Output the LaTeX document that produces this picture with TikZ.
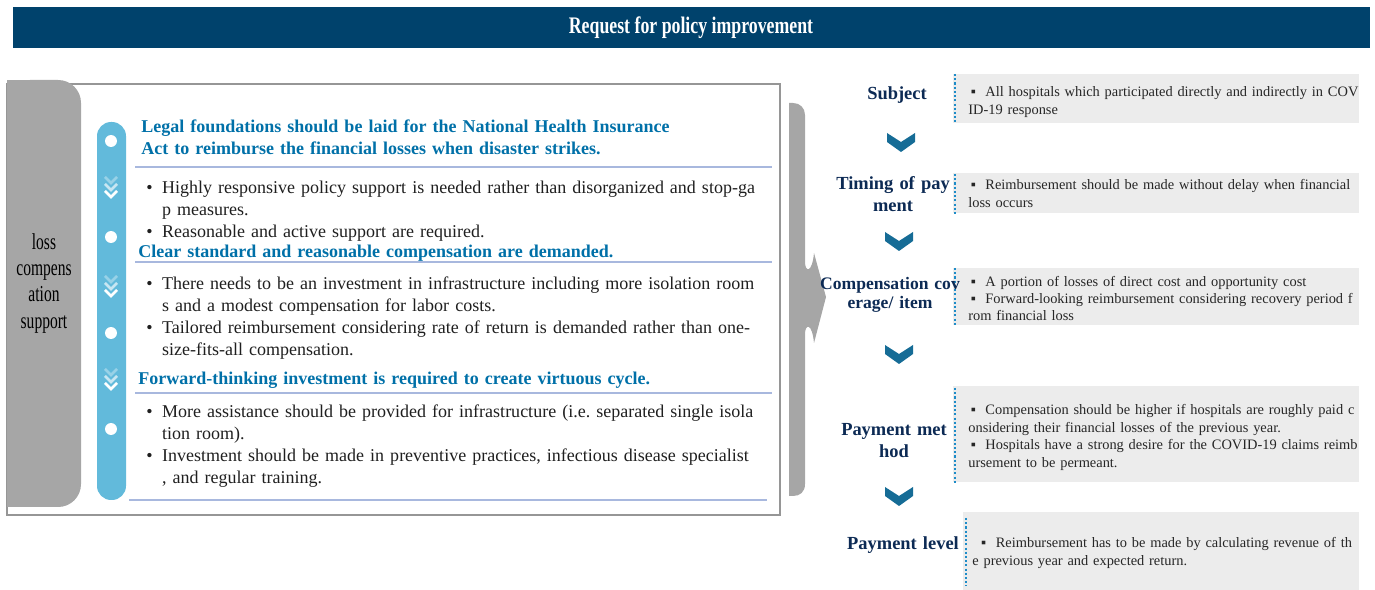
\documentclass[tikz,border=0pt]{standalone}
\usepackage{fontspec}
\setmainfont{Liberation Serif}
\newfontfamily\condfont{Liberation Serif}[FakeStretch=0.75]
\newfontfamily\tabfont{Liberation Serif}[FakeStretch=0.68]
\usetikzlibrary{positioning,calc}
\definecolor{titlenavy}{RGB}{0,66,108}
\definecolor{tabgray}{RGB}{166,166,166}
\definecolor{framegray}{RGB}{150,150,150}
\definecolor{barblue}{RGB}{98,186,219}
\definecolor{headblue}{RGB}{0,112,168}
\definecolor{ruleblue}{RGB}{168,184,222}
\definecolor{labnavy}{RGB}{12,42,84}
\definecolor{boxgray}{RGB}{236,236,236}
\definecolor{dotblue}{RGB}{30,140,200}
\definecolor{chevblue}{RGB}{22,108,150}
\tikzstyle{head} = [text=headblue, font=\fontsize{10.25}{12.5}\selectfont\bfseries, text width=13cm, align=left, inner sep=0pt, anchor=base west]
\tikzstyle{body} = [text=black!88, font=\fontsize{10.25}{12.5}\selectfont, text width=13cm, align=left, inner sep=0pt, anchor=base west]
\tikzstyle{hrule} = [ruleblue, line width=0.8pt]
\newcommand{\bitem}{\makebox[9pt][l]{\textbullet}}
\newcommand{\bcont}{\hspace*{9pt}}
\begin{document}
\begin{tikzpicture}[x=0.02cm, y=-0.02cm]
\tikzset{%
	label/.style = {text=labnavy, font=\fontsize{10.5}{12.5}\selectfont\bfseries, text width=3.4cm, align=center, inner sep=0pt, anchor=base},
	boxtext/.style = {text=black!85, font=\fontsize{8.2}{9.7}\selectfont, text width=8.5cm, align=left, inner sep=0pt, anchor=base west},
	dotline/.style = {dotblue, line width=1.3pt, dash pattern=on 1.2pt off 1.2pt}
}
\useasboundingbox (0,0) rectangle (1375,590);

% title bar
\fill[titlenavy] (13,7) rectangle (1370,48);
\node(title) [text=white, font=\condfont\fontsize{13.5}{15}\selectfont\bfseries] at (691,28) {Request for policy improvement};

% left panel
\draw[framegray, line width=1.2pt] (7,84) rectangle (780,515);
\fill[tabgray, rounded corners=13pt] (7,80) rectangle (81,507);
\fill[tabgray] (7,80) rectangle (45,507);
\node(tab) [font=\tabfont\fontsize{13}{14.8}\selectfont, text width=2cm, align=center, inner sep=0pt, anchor=base] at (44,250) {loss\\compens\\ation\\support};

\fill[barblue, rounded corners=8pt] (97,122) rectangle (126,500);
\fill[white] (111,141) circle (3.4pt);
\fill[white] (111,237) circle (3.4pt);
\fill[white] (111,333) circle (3.4pt);
\fill[white] (111,429) circle (3.4pt);
\draw[white, opacity=0.35, line width=1.5pt] (105,177) -- (111,183) -- (117,177);
\draw[white, opacity=0.65, line width=1.5pt] (105,184) -- (111,190) -- (117,184);
\draw[white, line width=1.5pt] (105,191) -- (111,197) -- (117,191);
\draw[white, opacity=0.35, line width=1.5pt] (105,276) -- (111,282) -- (117,276);
\draw[white, opacity=0.65, line width=1.5pt] (105,283) -- (111,289) -- (117,283);
\draw[white, line width=1.5pt] (105,290) -- (111,296) -- (117,290);
\draw[white, opacity=0.35, line width=1.5pt] (105,369) -- (111,375) -- (117,369);
\draw[white, opacity=0.65, line width=1.5pt] (105,376) -- (111,382) -- (117,376);
\draw[white, line width=1.5pt] (105,383) -- (111,389) -- (117,383);

\node(hd1) [head] at (141,133) {Legal foundations should be laid for the National Health Insurance\\Act to reimburse the financial losses when disaster strikes.};
\draw[hrule] (135,167) -- (772,167);
\node(bl1) [body] at (146,194) {\bitem Highly responsive policy support is needed rather than disorganized and stop-ga\\\bcont p measures.\\\bitem Reasonable and active support are required.};
\node(hd2) [head] at (138,258) {Clear standard and reasonable compensation are demanded.};
\draw[hrule] (135,262) -- (772,262);
\node(bl2) [body] at (146,290) {\bitem There needs to be an investment in infrastructure including more isolation room\\\bcont s and a modest compensation for labor costs.\\\bitem Tailored reimbursement considering rate of return is demanded rather than one-\\\bcont size-fits-all compensation.};
\node(hd3) [head] at (138,385) {Forward-thinking investment is required to create virtuous cycle.};
\draw[hrule] (135,393) -- (772,393);
\node(bl3) [body] at (146,418) {\bitem More assistance should be provided for infrastructure (i.e.\ separated single isola\\\bcont tion room).\\\bitem Investment should be made in preventive practices, infectious disease specialist\\\bcont , and regular training.};
\draw[hrule] (129,500) -- (767,500);

% brace arrow
\fill[tabgray] (789,103) -- (789,496) -- (793,496) .. controls (800,496) and (805,492) .. (805,484) -- (805,334) .. controls (805,324) and (812,322) .. (814,343) -- (826,297) -- (814,253) .. controls (812,274) and (805,272) .. (805,262) -- (805,115) .. controls (805,108) and (800,103) .. (793,103) -- cycle;

% right column
\fill[boxgray] (953,74) rectangle (1359,123);
\draw[dotline] (955,74) -- (955,123);
\fill[boxgray] (953,173) rectangle (1359,213);
\draw[dotline] (955,174) -- (955,214);
\fill[boxgray] (953,268) rectangle (1359,325);
\draw[dotline] (955,268) -- (955,326);
\fill[boxgray] (953,386) rectangle (1359,482);
\draw[dotline] (955,388) -- (955,483);
\fill[boxgray] (963,512) rectangle (1359,590);
\draw[dotline] (966,518) -- (966,586);

\node(lb1) [label] at (897,100) {Subject};
\node(lb2) [label] at (893,190) {Timing of pay\\ment};
\node(lb3) [label, font=\fontsize{10}{10.3}\selectfont\bfseries] at (890,290) {Compensation cov\\erage/ item};
\node(lb4) [label] at (894,436) {Payment met\\hod};
\node(lb5) [label] at (903,549) {Payment level};

\fill[chevblue] (887,133) -- (901,142) -- (915,133) -- (915,142) -- (901,152) -- (887,142) -- cycle;
\fill[chevblue] (885,232) -- (899,241) -- (913,232) -- (913,241) -- (899,251) -- (885,241) -- cycle;
\fill[chevblue] (885,345) -- (899,354) -- (913,345) -- (913,354) -- (899,364) -- (885,354) -- cycle;
\fill[chevblue] (885,487) -- (899,496) -- (913,487) -- (913,496) -- (899,506) -- (885,496) -- cycle;

\node(bt1) [boxtext] at (968,97) {\,▪\ \ All hospitals which participated directly and indirectly in COV\\ID-19 response};
\node(bt2) [boxtext] at (968,190) {\,▪\ \ Reimbursement should be made without delay when financial\\loss occurs};
\node(bt3) [boxtext, font=\fontsize{8.2}{9.4}\selectfont] at (968,287) {\,▪\ \ A portion of losses of direct cost and opportunity cost\\\,▪\ \ Forward-looking reimbursement considering recovery period f\\rom financial loss};
\node(bt4) [boxtext, font=\fontsize{8.2}{9.9}\selectfont] at (968,415) {\,▪\ \ Compensation should be higher if hospitals are roughly paid c\\onsidering their financial losses of the previous year.\\\,▪\ \ Hospitals have a strong desire for the COVID-19 claims reimb\\ursement to be permeant.};
\node(bt5) [boxtext, font=\fontsize{8.2}{10.3}\selectfont] at (972,547) {\hspace*{5pt}▪\ \ Reimbursement has to be made by calculating revenue of th\\e previous year and expected return.};
\end{tikzpicture}
\end{document}
